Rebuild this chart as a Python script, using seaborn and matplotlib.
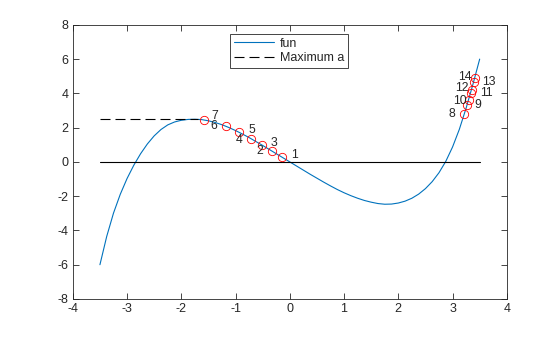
import matplotlib
matplotlib.use("Agg")
import matplotlib.pyplot as plt
import seaborn as sns
import pandas as pd

# ---- data ----
x_curve = [-3.5, -3.375, -3.25, -3.125, -3.0, -2.875, -2.75, -2.625, -2.5, -2.375,
           -2.25, -2.125, -2.0, -1.875, -1.75, -1.625, -1.5, -1.375, -1.25, -1.125,
           -1.0, -0.875, -0.75, -0.625, -0.5, -0.375, -0.25, -0.125, 0.0,
           0.125, 0.25, 0.375, 0.5, 0.625, 0.75, 0.875, 1.0, 1.125, 1.25, 1.375,
           1.5, 1.625, 1.75, 1.875, 2.0, 2.125, 2.25, 2.375, 2.5, 2.625, 2.75,
           2.875, 3.0, 3.125, 3.25, 3.375, 3.5]
y_curve = [-6.0, -4.35, -2.99, -1.89, -0.97, -0.19, 0.48, 1.05, 1.52, 1.89,
           2.16, 2.33, 2.43, 2.48, 2.49, 2.47, 2.40, 2.30, 2.17, 2.01,
           1.83, 1.63, 1.42, 1.19, 0.96, 0.72, 0.48, 0.24, 0.0,
           -0.24, -0.48, -0.72, -0.95, -1.18, -1.40, -1.61, -1.80, -1.97, -2.12, -2.25,
           -2.35, -2.43, -2.47, -2.46, -2.40, -2.29, -2.12, -1.88, -1.56, -1.15, -0.63,
           0.03, 0.87, 1.90, 3.14, 4.52, 6.0]

zero_x = [-3.5, 3.5]
zero_y = [0.0, 0.0]

max_x = [-3.5, -1.69]
max_y = [2.49, 2.49]

iter_labels = ["1", "2", "3", "4", "5", "6", "7",
               "8", "9", "10", "11", "12", "13", "14"]
iter_x = [-0.14, -0.51, -0.32, -0.93, -0.71, -1.17, -1.59,
          3.215, 3.27, 3.295, 3.332, 3.35, 3.392, 3.41]
iter_y = [0.29, 0.97, 0.63, 1.72, 1.33, 2.10, 2.44,
          2.78, 3.32, 3.61, 4.02, 4.21, 4.68, 4.87]

legend_labels = ["fun", "Maximum a"]
x_ticks = [-4, -3, -2, -1, 0, 1, 2, 3, 4]
y_ticks = [-8, -6, -4, -2, 0, 2, 4, 6, 8]

# label offsets from each circle (pixels: right, down)
label_offsets_px = [(12, -1.5), (-2.4, 6), (2, -8), (0, 7.5), (0.5, -9.3), (-13, 0.5), (11.4, -4.5),
                    (-12, 0), (11, 0), (-9, 1), (15.5, 0), (-9.5, -1.5), (14.6, 0), (-10, -1)]

# ---- styling ----
sns.set_theme(style="white")
plt.rcParams["font.family"] = ["Liberation Sans", "DejaVu Sans"]
axis_col = "#262626"

fig = plt.figure(figsize=(5.6, 3.37), dpi=100, facecolor="white")
ax = fig.add_axes([0.13, 0.1128, 0.775, 0.8135])

df_curve = pd.DataFrame({"x": x_curve, "y": y_curve})
sns.lineplot(data=df_curve, x="x", y="y", ax=ax, color="#0072BD", linewidth=0.8,
             sort=False, estimator=None, label=legend_labels[0])
sns.lineplot(x=zero_x, y=zero_y, ax=ax, color="black", linewidth=0.8,
             sort=False, estimator=None, label="_nolegend_")
sns.lineplot(x=max_x, y=max_y, ax=ax, color="black", linewidth=0.8,
             sort=False, estimator=None, label=legend_labels[1], dashes=False)
ax.lines[-1].set_dashes([9, 4.5])

ax.plot(iter_x, iter_y, linestyle="none", marker="o", markersize=6,
        markerfacecolor="none", markeredgecolor="red", markeredgewidth=0.6)

for lab, xv, yv, (dx, dy) in zip(iter_labels, iter_x, iter_y, label_offsets_px):
    ax.annotate(lab, (xv, yv), xytext=(dx * 0.72, -dy * 0.72), textcoords="offset points",
                ha="center", va="center", fontsize=8.8, color="#262626")

ax.set_xlim(-4, 4)
ax.set_ylim(-8, 8)
ax.set_xticks(x_ticks)
ax.set_yticks(y_ticks)
ax.set_xticklabels([str(t) for t in x_ticks])
ax.set_yticklabels([str(t) for t in y_ticks])
ax.set_xlabel("")
ax.set_ylabel("")
ax.tick_params(direction="in", length=4, width=0.6, colors=axis_col, labelsize=9,
               top=True, right=True, bottom=True, left=True, pad=3)
for s in ax.spines.values():
    s.set_visible(True)
    s.set_color(axis_col)
    s.set_linewidth(0.6)

leg = ax.legend(loc="upper center", bbox_to_anchor=(0.498, 0.967), borderaxespad=0,
                frameon=True, fancybox=False, edgecolor="#262626", fontsize=9,
                handlelength=3.2, handletextpad=0.5, labelspacing=0.2,
                borderpad=0.3, framealpha=1)
leg.get_frame().set_linewidth(0.6)
for t in leg.get_texts():
    t.set_color("#262626")

fig.savefig("out.png", dpi=100, facecolor="white")
